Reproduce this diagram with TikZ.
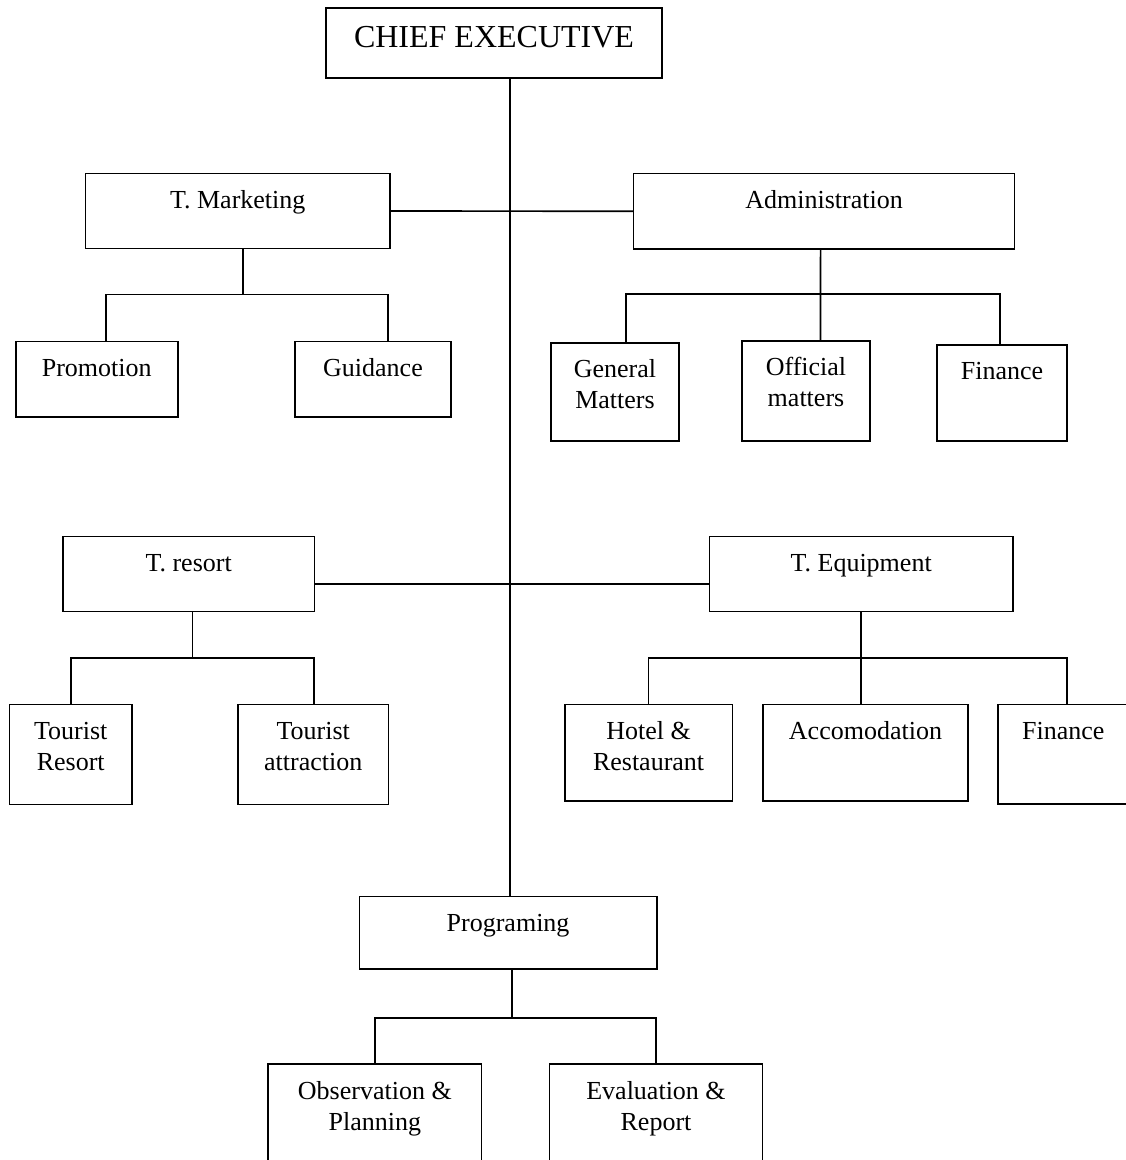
\documentclass[tikz,border=0pt]{standalone}
\usepackage{fontspec}
\setmainfont{Liberation Serif}
\usepackage{tikz}
\usetikzlibrary{positioning}
\newcommand{\boxfont}{\fontsize{26}{31}\selectfont}
\newcommand{\headfont}{\fontsize{32}{38}\selectfont}

\begin{document}
\begin{tikzpicture}[
  x=1pt, y=-1pt,
  unit/.style={draw, line width=1.7pt, inner sep=0pt, anchor=north,
               align=center, font=\boxfont, text height=35pt},
  unit2/.style={unit, text height=66pt},
  link/.style={line width=1.7pt},
]
  \useasboundingbox (0,0) rectangle (1126,1160);

  % Top
  \node[unit, font=\headfont, minimum width=336pt, text height=40pt, text depth=30pt]
    (chief) at (494,7) {CHIEF EXECUTIVE};

  % First row of departments
  \node[unit, minimum width=304.8pt, text depth=40pt] (tmkt) at (237.8,172.7) {T. Marketing};
  \node[unit, minimum width=381pt, text depth=40.3pt] (admin) at (824.1,172.7) {Administration};
  \node[unit, minimum width=161.9pt, text depth=40.3pt] (promo) at (96.75,340.7) {Promotion};
  \node[unit, minimum width=156pt, text depth=40.3pt] (guid) at (373,340.7) {Guidance};
  \node[unit2, minimum width=128pt, text depth=32pt] (gen) at (615,342) {General\\Matters};
  \node[unit2, minimum width=128pt, text depth=34pt] (off) at (806,340) {Official\\matters};
  \node[unit, minimum width=130pt, text depth=61pt] (fina) at (1002,344) {Finance};

  % Second row of departments
  \node[unit, minimum width=251.4pt, text depth=40pt] (tres) at (188.7,535.7) {T. resort};
  \node[unit, minimum width=303.7pt, text depth=40pt] (teq) at (861.2,535.7) {T. Equipment};
  \node[unit2, minimum width=122.3pt, text depth=34pt] (tour) at (70.75,703.7) {Tourist\\Resort};
  \node[unit2, minimum width=150.5pt, text depth=34pt] (attr) at (313.25,703.7) {Tourist\\attraction};
  \node[unit2, minimum width=167.8pt, text depth=30.3pt] (hotel) at (648.6,703.7) {Hotel \&\\Restaurant};
  \node[unit, minimum width=205.6pt, text depth=61.3pt] (accom) at (865.5,703.7) {Accomodation};
  \node[unit, minimum width=130pt, text depth=64.8pt] (finb) at (1063.3,703.5) {Finance};

  % Bottom
  \node[unit, minimum width=297.2pt, text depth=37.6pt] (prog) at (508.1,895.7) {Programing};
  \node[unit2, minimum width=213.1pt, text depth=54pt] (obs) at (374.85,1063.3) {Observation \&\\Planning};
  \node[unit2, minimum width=212.8pt, text depth=54pt] (eval) at (656,1063.3) {Evaluation \&\\Report};

  % Trunk and cross lines
  \draw[link] ([xshift=2pt]prog.north) -- ([xshift=2pt]prog.north |- chief.south);
  \draw[link] (tmkt.east) -- (admin.west);
  \draw[link] ([yshift=-10pt]tres.east) -- ([yshift=-10pt]tres.east -| teq.west);

  % Branches
  \draw[link] ([xshift=5pt]tmkt.south) -- ++(0,45) coordinate (mktbus);
  \draw[link] ([xshift=9pt]promo.north) |- (mktbus) -| ([xshift=15pt]guid.north);

  \coordinate (admbus) at ([yshift=-44pt]admin.south);
  \draw[link] ([xshift=-3.5pt]admin.south) -- ([xshift=14.5pt]off.north);
  \draw[link] ([xshift=11pt]gen.north) |- (admbus) -| ([xshift=-2.3pt]fina.north);

  \draw[link] ([xshift=3.8pt]tres.south) -- ++(0,45.3) coordinate (resbus);
  \draw[link] (tour.north) |- (resbus) -| ([xshift=1pt]attr.north);

  \coordinate (eqbus) at ([yshift=-45.3pt]teq.south);
  \draw[link] (teq.south) -- (teq.south |- accom.north);
  \draw[link] (hotel.north) |- (eqbus) -| ([xshift=3.5pt]finb.north);

  \draw[link] ([xshift=3.6pt]prog.south) -- ++(0,47.7) coordinate (progbus);
  \draw[link] (obs.north) |- (progbus) -| (eval.north);
\end{tikzpicture}
\end{document}
